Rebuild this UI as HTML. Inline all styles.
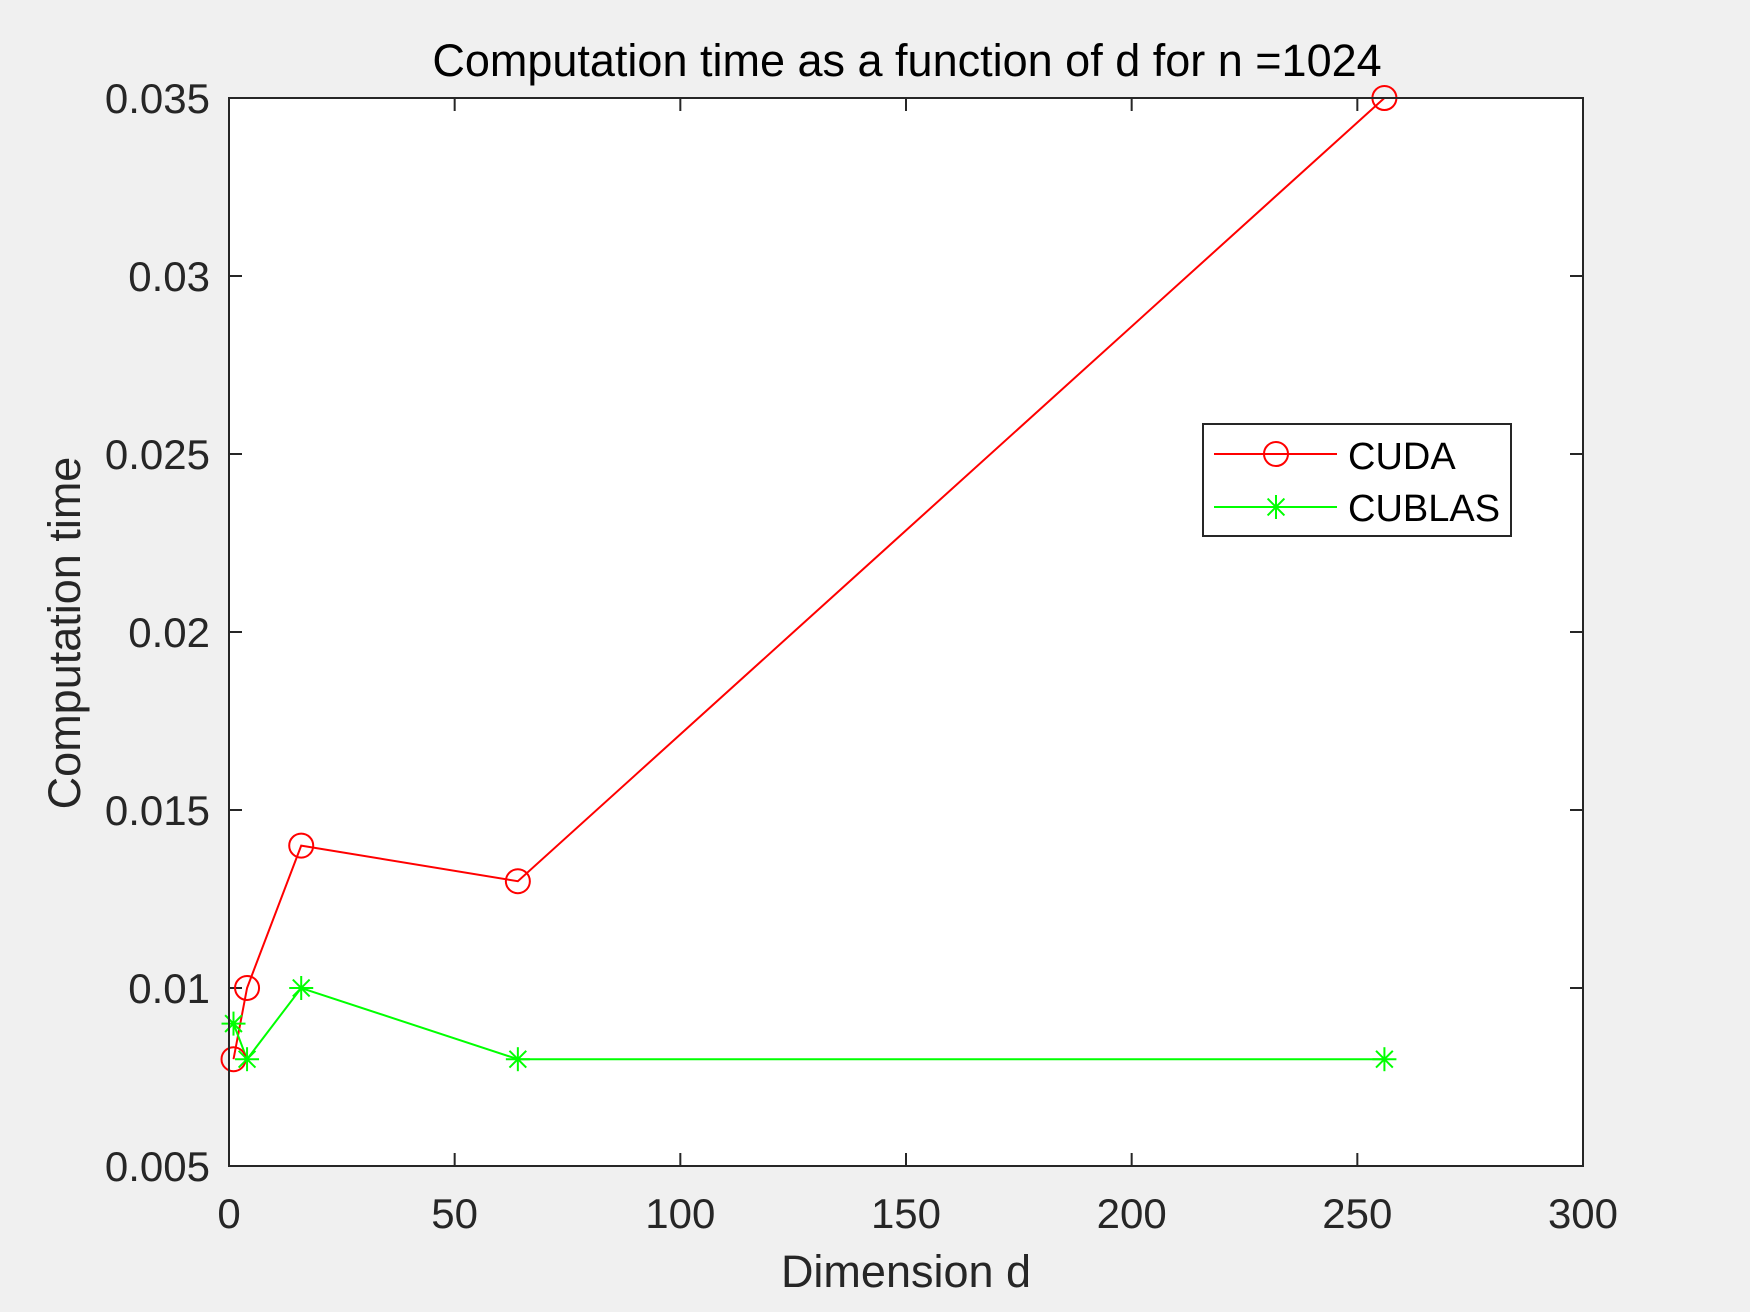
<!DOCTYPE html>
<html><head><meta charset="utf-8"><style>
html,body{margin:0;padding:0;background:#f0f0f0;}
svg{display:block;font-family:"Liberation Sans",Arial,sans-serif;}
</style></head><body>
<svg id="chart" width="1750" height="1312" viewBox="0 0 1750 1312">
<rect x="0" y="0" width="1750" height="1312" fill="#f0f0f0"/>
<rect x="229" y="98" width="1354" height="1068" fill="#fff"/>
<g id="grid"></g>
<g id="series"></g>
<rect x="229" y="98" width="1354" height="1068" fill="none" stroke="#262626" stroke-width="2"/>
<text x="907" y="76" font-size="45" text-anchor="middle" fill="#000">Computation time as a function of d for n =1024</text>
<text x="906" y="1287" font-size="45" text-anchor="middle" fill="#262626">Dimension d</text>
<text x="0" y="0" font-size="45" text-anchor="middle" fill="#262626" transform="translate(80,633) rotate(-90)">Computation time</text>
<g>
<rect x="1203" y="424" width="308" height="112" fill="#fff" stroke="#262626" stroke-width="2"/>
<line x1="1214" y1="454" x2="1337" y2="454" stroke="#ff0000" stroke-width="2"/>
<circle cx="1276" cy="454" r="12" fill="none" stroke="#ff0000" stroke-width="2"/>
<text x="1348" y="469" font-size="38" fill="#000">CUDA</text>
<line x1="1214" y1="507" x2="1337" y2="507" stroke="#00ff00" stroke-width="2"/>
<g id="legstar"></g>
<text x="1348" y="521" font-size="38" fill="#000">CUBLAS</text>
</g>
</svg>
<script>
const xValues = [1, 4, 16, 64, 256];
const cudaValues = [0.008, 0.010, 0.014, 0.013, 0.035];
const cublasValues = [0.009, 0.008, 0.010, 0.008, 0.008];
const xTicks = [0, 50, 100, 150, 200, 250, 300];
const yTicks = [0.005, 0.01, 0.015, 0.02, 0.025, 0.03, 0.035];
const yTickLabels = ["0.005", "0.01", "0.015", "0.02", "0.025", "0.03", "0.035"];

const L=229,R=1583,T=98,B=1166;
const xs=v=>L+(v-0)/(300-0)*(R-L);
const ys=v=>B-(v-0.005)/(0.035-0.005)*(B-T);
const NS="http://www.w3.org/2000/svg";
function mk(tag,attrs,parent){const e=document.createElementNS(NS,tag);for(const k in attrs)e.setAttribute(k,attrs[k]);parent.appendChild(e);return e;}
const grid=document.getElementById('grid');
const ser=document.getElementById('series');
xTicks.forEach(t=>{
  const x=xs(t);
  let a=mk('line',{x1:x,y1:B,x2:x,y2:B-13,stroke:'#262626','stroke-width':2},grid);
  
  
  let b=mk('line',{x1:x,y1:T,x2:x,y2:T+13,stroke:'#262626','stroke-width':2},grid);
  
  
  let tx=mk('text',{x:x,y:1228,'font-size':42,'text-anchor':'middle',fill:'#262626'},grid);
  tx.textContent=String(t);
  
  
});
yTicks.forEach((t,i)=>{
  const y=ys(t);
  let a=mk('line',{x1:L,y1:y,x2:L+13,y2:y,stroke:'#262626','stroke-width':2},grid);
  
  
  let b=mk('line',{x1:R,y1:y,x2:R-13,y2:y,stroke:'#262626','stroke-width':2},grid);
  
  
  let tx=mk('text',{x:210,y:y+15,'font-size':42,'text-anchor':'end',fill:'#262626'},grid);
  tx.textContent=yTickLabels[i];
  
  
});
function star(g,cx,cy,r,col){
  [[0,-r,0,r],[-r,0,r,0],[-r*0.7,-r*0.7,r*0.7,r*0.7],[-r*0.7,r*0.7,r*0.7,-r*0.7]].forEach(s=>{
    mk('line',{x1:cx+s[0],y1:cy+s[1],x2:cx+s[2],y2:cy+s[3],stroke:col,'stroke-width':2},g);
  });
}
let p1=mk('polyline',{points:xValues.map((x,i)=>xs(x)+','+ys(cudaValues[i])).join(' '),fill:'none',stroke:'#ff0000','stroke-width':2},ser);


let p2=mk('polyline',{points:xValues.map((x,i)=>xs(x)+','+ys(cublasValues[i])).join(' '),fill:'none',stroke:'#00ff00','stroke-width':2},ser);


xValues.forEach((x,i)=>{
  let c=mk('circle',{cx:xs(x),cy:ys(cudaValues[i]),r:12,fill:'none',stroke:'#ff0000','stroke-width':2},ser);
  
  
  let g=mk('g',{},ser);
  
  
  star(g,xs(x),ys(cublasValues[i]),12,'#00ff00');
});
star(document.getElementById('legstar'),1276,507,12,'#00ff00');
</script>
</body></html>
